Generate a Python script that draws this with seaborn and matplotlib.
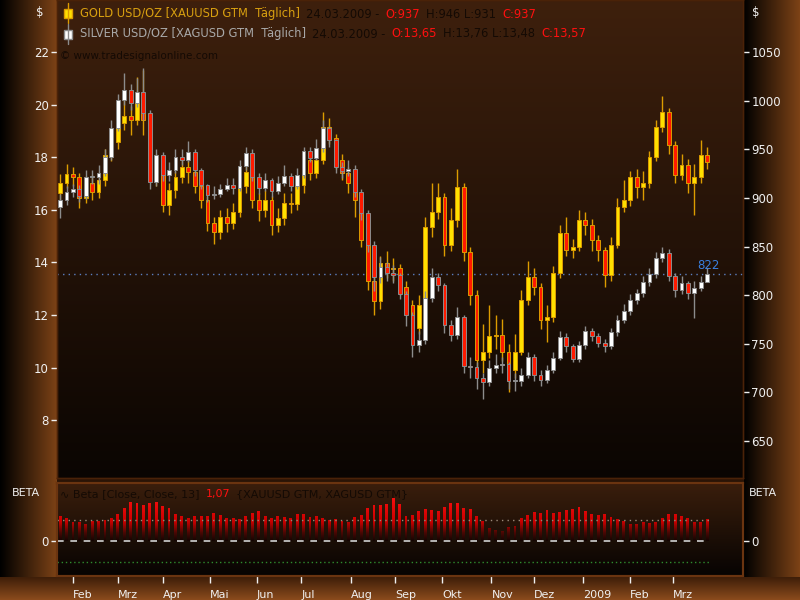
import numpy as np
import pandas as pd
import matplotlib
matplotlib.use("Agg")
import matplotlib.pyplot as plt
import seaborn as sns
from matplotlib.colors import LinearSegmentedColormap, to_rgb
from matplotlib.patches import Rectangle, PathPatch
from matplotlib.path import Path
from matplotlib.lines import Line2D

# --- Data: chart, one candle per 3 trading days ---
all_days = pd.bdate_range("2008-01-23", "2009-03-24")
candle_days = all_days[1::3]

gold_open0 = 905
gold_close = [915, 925, 921, 900, 915, 906, 918, 944, 957, 977,
              984, 980, 998, 980, 927, 929, 893, 908, 921, 932,
              927, 912, 898, 874, 865, 880, 874, 885, 912, 927,
              898, 888, 898, 872, 879, 895, 894, 913, 939, 926,
              939, 973, 962, 939, 926, 915, 898, 857, 815, 794,
              833, 827, 828, 808, 790, 766, 790, 870, 885, 901,
              852, 877, 911, 844, 800, 733, 742, 758, 759, 742,
              723, 742, 795, 819, 808, 774, 778, 823, 864, 846,
              850, 877, 872, 857, 846, 821, 852, 891, 898, 921,
              911, 915, 942, 973, 988, 954, 924, 934, 915, 921,
              944, 937]
gold_high = [925, 935, 932, 926, 922, 924, 925, 950, 966, 990,
             1005, 995, 1024, 1032, 985, 945, 935, 915, 928, 940,
             940, 932, 918, 902, 880, 888, 890, 895, 920, 935,
             930, 905, 908, 902, 890, 905, 905, 920, 945, 945,
             948, 988, 982, 966, 945, 932, 920, 905, 862, 822,
             840, 845, 838, 832, 815, 795, 800, 880, 915, 915,
             905, 890, 930, 915, 850, 805, 770, 790, 780, 775,
             750, 760, 805, 835, 828, 812, 790, 830, 872, 880,
             858, 888, 885, 878, 862, 850, 860, 900, 918, 928,
             930, 928, 948, 980, 1005, 992, 958, 945, 940, 935,
             960, 952]
gold_low = [898, 910, 912, 890, 895, 898, 900, 912, 938, 950,
            970, 965, 975, 965, 920, 912, 885, 882, 900, 915,
            915, 905, 890, 866, 853, 858, 865, 868, 880, 905,
            890, 876, 880, 862, 865, 872, 884, 888, 905, 918,
            920, 935, 955, 930, 918, 905, 880, 850, 805, 780,
            786, 818, 815, 800, 780, 750, 760, 785, 860, 878,
            840, 845, 870, 835, 790, 720, 720, 735, 745, 732,
            700, 715, 738, 790, 800, 765, 752, 772, 818, 840,
            838, 845, 862, 845, 835, 808, 815, 848, 885, 892,
            900, 898, 910, 938, 968, 945, 915, 918, 905, 882,
            915, 930]

silver_open0 = 16.10
silver_close = [16.37, 16.68, 16.79, 16.52, 17.25, 17.25, 17.40, 18.01, 19.11, 20.17,
                20.56, 20.06, 20.48, 19.68, 17.06, 18.08, 17.32, 17.51, 18.01, 17.89,
                18.20, 17.51, 16.94, 16.56, 16.60, 16.79, 16.94, 16.83, 17.67, 18.16,
                17.25, 16.83, 17.13, 16.71, 17.02, 17.29, 16.90, 17.32, 18.24, 17.97,
                18.35, 19.11, 18.65, 17.63, 17.48, 17.55, 16.68, 15.88, 14.66, 13.44,
                13.83, 13.60, 13.52, 12.80, 12.00, 10.86, 11.05, 12.65, 13.44, 13.14,
                11.62, 11.24, 11.92, 10.06, 10.02, 9.60, 9.45, 9.98, 10.10, 10.14,
                9.49, 9.49, 9.72, 10.40, 9.72, 9.53, 9.91, 10.37, 11.16, 10.82,
                10.33, 10.86, 11.39, 11.20, 10.94, 10.82, 11.35, 11.81, 12.15, 12.57,
                12.84, 13.25, 13.56, 14.17, 14.36, 13.48, 12.95, 13.22, 12.84, 13.03,
                13.25, 13.57]
silver_high = [16.6, 16.9, 17.0, 16.95, 17.5, 17.5, 17.7, 18.3, 19.4, 20.4,
               21.2, 20.8, 21.0, 21.4, 19.8, 18.3, 18.2, 17.8, 18.3, 18.3,
               18.6, 18.3, 17.6, 17.0, 16.9, 17.0, 17.2, 17.2, 17.9, 18.4,
               18.3, 17.4, 17.4, 17.2, 17.3, 17.7, 17.4, 17.6, 18.4, 18.4,
               18.7, 19.4, 19.2, 18.7, 17.8, 17.9, 17.7, 16.8, 16.0, 14.8,
               14.2, 14.0, 13.9, 13.6, 12.9, 12.1, 11.4, 12.9, 13.8, 13.6,
               13.2, 11.8, 12.3, 12.0, 10.4, 10.2, 9.8, 10.3, 10.5, 10.4,
               10.2, 9.8, 10.0, 10.6, 10.5, 9.9, 10.1, 10.6, 11.4, 11.3,
               10.9, 11.0, 11.6, 11.5, 11.3, 11.1, 11.5, 12.0, 12.4, 12.8,
               13.0, 13.5, 13.8, 14.4, 14.6, 14.5, 13.6, 13.5, 13.3, 13.3,
               13.5, 13.8]
silver_low = [15.7, 16.2, 16.5, 16.3, 16.4, 17.0, 17.0, 17.3, 17.9, 19.0,
              20.0, 19.8, 19.9, 19.4, 16.8, 16.9, 17.1, 17.1, 17.4, 17.7,
              17.8, 17.3, 16.8, 16.3, 16.4, 16.5, 16.7, 16.6, 16.7, 17.5,
              17.1, 16.6, 16.7, 16.5, 16.6, 16.9, 16.7, 16.8, 17.2, 17.8,
              17.9, 18.2, 18.4, 17.4, 17.2, 17.3, 16.5, 15.6, 14.4, 12.9,
              13.2, 13.3, 13.2, 12.6, 11.6, 10.4, 10.6, 10.9, 12.5, 12.9,
              11.3, 11.0, 11.1, 9.8, 9.6, 9.2, 8.8, 9.3, 9.8, 9.8,
              9.2, 9.1, 9.3, 9.6, 9.5, 9.3, 9.4, 9.8, 10.3, 10.6,
              10.2, 10.2, 10.7, 11.0, 10.8, 10.6, 10.7, 11.2, 11.7, 12.0,
              12.4, 12.7, 13.1, 13.4, 14.0, 13.3, 12.7, 12.8, 12.6, 11.9,
              12.9, 13.4]

beta = [1.21, 1.13, 0.94, 0.94, 0.84, 0.97, 0.97, 1.00, 1.10, 1.32,
        1.61, 1.90, 1.81, 1.74, 1.85, 1.90, 1.69, 1.58, 1.29, 1.21,
        1.13, 1.21, 1.21, 1.21, 1.37, 1.26, 1.13, 1.13, 1.05, 1.21,
        1.37, 1.45, 1.21, 1.13, 1.21, 1.16, 1.13, 1.29, 1.32, 1.16,
        1.21, 1.13, 1.00, 1.05, 0.97, 0.94, 1.16, 1.26, 1.61, 1.74,
        1.74, 1.77, 2.06, 1.80, 1.21, 1.26, 1.45, 1.53, 1.48, 1.45,
        1.65, 1.81, 1.85, 1.61, 1.53, 1.21, 0.97, 0.65, 0.56, 0.48,
        0.68, 0.73, 1.13, 1.26, 1.42, 1.37, 1.48, 1.37, 1.42, 1.48,
        1.53, 1.65, 1.45, 1.32, 1.26, 1.32, 1.16, 1.05, 0.97, 0.84,
        0.84, 0.94, 0.89, 0.94, 1.13, 1.29, 1.29, 1.21, 1.10, 0.94,
        0.94, 1.07]

marker_level = 822
month_labels = ["Feb", "Mrz", "Apr", "Mai", "Jun", "Jul", "Aug", "Sep",
                "Okt", "Nov", "Dez", "2009", "Feb", "Mrz"]
silver_ticks = [8, 10, 12, 14, 16, 18, 20, 22]
gold_ticks = [650, 700, 750, 800, 850, 900, 950, 1000, 1050]

# --- Style ---
sns.set_theme(style="dark")
plt.rcParams["font.family"] = ["DejaVu Sans"]

W, H = 800, 600
fig = plt.figure(figsize=(8, 6), dpi=100)


def fx(x):
    return x / W


def fy(y):
    return 1 - y / H


def rgb(c):
    return np.array(to_rgb(c))


# background: brown side bands, dark gradient panels
yy, xx = np.mgrid[0:H, 0:W].astype(float)
shade = np.ones((H, W))
shade = np.where(xx < 57, np.clip(xx / 56, 0, 1), shade)
shade = np.where(xx > 743, np.clip((xx - 743) / 56, 0, 1), shade)
bg = rgb("#7c4216") * shade[..., None]


def vgrad(y0, y1, c0, c1):
    t = np.clip((yy - y0) / (y1 - y0), 0, 1)[..., None]
    return rgb(c0) * (1 - t) + rgb(c1) * t


inner = (xx >= 57) & (xx <= 743)
m = inner & (yy < 478)
bg[m] = vgrad(0, 478, "#3e200d", "#0a0502")[m]
m = inner & (yy >= 478) & (yy < 483)
bg[m] = rgb("#2a1406")
m = inner & (yy >= 483) & (yy < 577)
bg[m] = vgrad(483, 576, "#3a1e0c", "#060302")[m]
m = yy >= 577
bg[m] = vgrad(577, 599, "#3f1f09", "#8a4a1c")[m]

bgax = fig.add_axes([0, 0, 1, 1], zorder=-5)
bgax.imshow(bg, aspect="auto", interpolation="nearest")
bgax.set_axis_off()

pos = all_days.get_indexer(candle_days)
xmin, xmax = -0.47, 320.8

# --- Price panel ---
ax_g = fig.add_axes([fx(57), fy(478), fx(743) - fx(57), 478 / H])
ax_s = ax_g.twinx()
for a in (ax_g, ax_s):
    a.set_facecolor("none")
    a.grid(False)
    for sp in a.spines.values():
        sp.set_color("#4a2208")
        sp.set_linewidth(1)
    a.tick_params(axis="x", bottom=False, labelbottom=False)


def draw_candles(ax, o, c, h, l, up_face, down_face, edge, min_body):
    o, c, h, l = (np.asarray(v, dtype=float) for v in (o, c, h, l))
    ax.vlines(pos, l, h, color=edge, lw=1.0, zorder=2)
    face = [up_face if cc >= oo else down_face for oo, cc in zip(o, c)]
    ax.bar(pos, np.maximum(np.abs(c - o), min_body), width=1.8,
           bottom=np.minimum(o, c), color=face, edgecolor=edge,
           linewidth=0.7, zorder=3)


gold_open = [gold_open0] + gold_close[:-1]
silver_open = [silver_open0] + silver_close[:-1]

ax_g.axhline(marker_level, color="#5b7fc0", lw=1, ls=(0, (1, 3)), zorder=1)
ax_g.text(299.5, marker_level + 2, str(marker_level), color="#3a80e0",
          fontsize=8.5, ha="left", va="bottom", zorder=4)
draw_candles(ax_g, gold_open, gold_close, gold_high, gold_low,
             "#ffe000", "#ff1a00", "#dc9c00", 1.0)
draw_candles(ax_s, silver_open, silver_close, silver_high, silver_low,
             "#ffffff", "#ff1a00", "#8c8c8c", 0.03)

ax_g.set_xlim(xmin, xmax)
ax_s.set_xlim(xmin, xmax)
ax_g.set_ylim(611.95, 1103.5)
ax_s.set_ylim(5.80, 23.98)
ax_g.set_yticks(gold_ticks)
ax_s.set_yticks(silver_ticks)
tick_kw = dict(colors="#f0f0f0", direction="out", length=4, width=1,
               labelsize=8.5, pad=2)
ax_g.tick_params(axis="y", left=False, labelleft=False, right=True,
                 labelright=True, **tick_kw)
ax_s.tick_params(axis="y", left=True, labelleft=True, right=False,
                 labelright=False, **tick_kw)

# --- Beta panel ---
axb = fig.add_axes([fx(57), fy(576), fx(743) - fx(57), (576 - 483) / H])
axb.set_facecolor("none")
axb.grid(False)
sns.barplot(x=pos, y=beta, native_scale=True, width=0.45, color="red",
            errorbar=None, ax=axb)
bars = list(axb.patches)
clip = Path.make_compound_path(
    *[b.get_path().transformed(b.get_patch_transform()) for b in bars])
for b in bars:
    b.set_visible(False)
red_fade = LinearSegmentedColormap.from_list(
    "fade", [(0, "#120402"), (0.18, "#4a0804"), (0.42, "#c80000"), (1, "#ff1010")])
im = axb.imshow(np.linspace(0, 1, 256).reshape(-1, 1), cmap=red_fade,
                extent=[xmin, xmax, 0, 2.2], origin="lower", aspect="auto",
                zorder=2)
im.set_clip_path(PathPatch(clip, transform=axb.transData))

line_end = pos[-1] + 1
axb.hlines(1.0, xmin, line_end, color="#9a8a7a", lw=1, linestyles=(0, (1, 3)), zorder=3)
axb.hlines(0.0, xmin, line_end, color="#d0d0d0", lw=1.2, linestyles=(0, (4, 4)), zorder=3)
axb.hlines(-1.0, xmin, line_end, color="#2e8b2e", lw=1, linestyles=(0, (1, 2)), zorder=3)

axb.set_xlabel("")
axb.set_ylabel("")
axb.set_xlim(xmin, xmax)
axb.set_ylim(-1.66, 2.79)
for sp in axb.spines.values():
    sp.set_color("#6a3410")
    sp.set_linewidth(1.5)

month_pos = [i for i in range(1, len(all_days))
             if all_days[i].month != all_days[i - 1].month]
axb.set_xticks(month_pos)
axb.set_xticklabels(month_labels, ha="left")
axb.tick_params(axis="x", bottom=True, labelbottom=True, colors="#f0f0f0",
                direction="out", length=5, width=1, pad=5, labelsize=8)
axb.set_yticks([0])
axb.set_yticklabels(["0"])
axb.tick_params(axis="y", left=True, labelleft=True, right=False, **tick_kw)

axb2 = axb.twinx()
axb2.set_ylim(-1.66, 2.79)
axb2.set_yticks([0])
axb2.set_yticklabels(["0"])
axb2.tick_params(axis="y", right=True, labelright=True, left=False, **tick_kw)
axb2.grid(False)
for sp in axb2.spines.values():
    sp.set_color("#6a3410")
    sp.set_linewidth(1.5)

# --- Texts ---
fig.text(fx(40), fy(13), "$", color="#f0f0f0", fontsize=8.5, ha="center", va="center")
fig.text(fx(752), fy(13), "$", color="#f0f0f0", fontsize=8.5, ha="left", va="center")
fig.text(fx(26), fy(493), "BETA", color="#f0f0f0", fontsize=8, ha="center", va="center")
fig.text(fx(763), fy(493), "BETA", color="#f0f0f0", fontsize=8, ha="center", va="center")

renderer = fig.canvas.get_renderer()


def text_run(x, y, parts, size=8.3):
    for s, col in parts:
        t = fig.text(fx(x), fy(y), s, color=col, fontsize=size,
                     ha="left", va="center")
        x += t.get_window_extent(renderer).width + 6


dark = "#140a04"
red = "#ff1010"
text_run(80, 14, [("GOLD USD/OZ [XAUUSD GTM  Täglich]", "#d8a010"),
                  ("24.03.2009 -", dark), ("O:937", red),
                  ("H:946 L:931", dark), ("C:937", red)])
text_run(80, 34, [("SILVER USD/OZ [XAGUSD GTM  Täglich]", "#a8a8a8"),
                  ("24.03.2009 -", dark), ("O:13,65", red),
                  ("H:13,76 L:13,48", dark), ("C:13,57", red)])
text_run(60, 56, [("© www.tradesignalonline.com", dark)], size=7.5)
text_run(60, 494, [("∿ Beta [Close, Close, 13]", dark), ("1,07", red),
                   ("{XAUUSD GTM, XAGUSD GTM}", dark)], size=8)

# legend icons (small candles)
for (top, face, edge) in [(9, "#ffe000", "#dc9c00"), (30, "#ffffff", "#8c8c8c")]:
    fig.add_artist(Line2D([fx(68), fx(68)], [fy(top - 6), fy(top + 14)],
                          color=edge, lw=1, transform=fig.transFigure))
    fig.add_artist(Rectangle((fx(64), fy(top + 9)), 8 / W, 9 / H,
                             facecolor=face, edgecolor=edge, lw=1,
                             transform=fig.transFigure))

fig.savefig("out.png", dpi=100)
